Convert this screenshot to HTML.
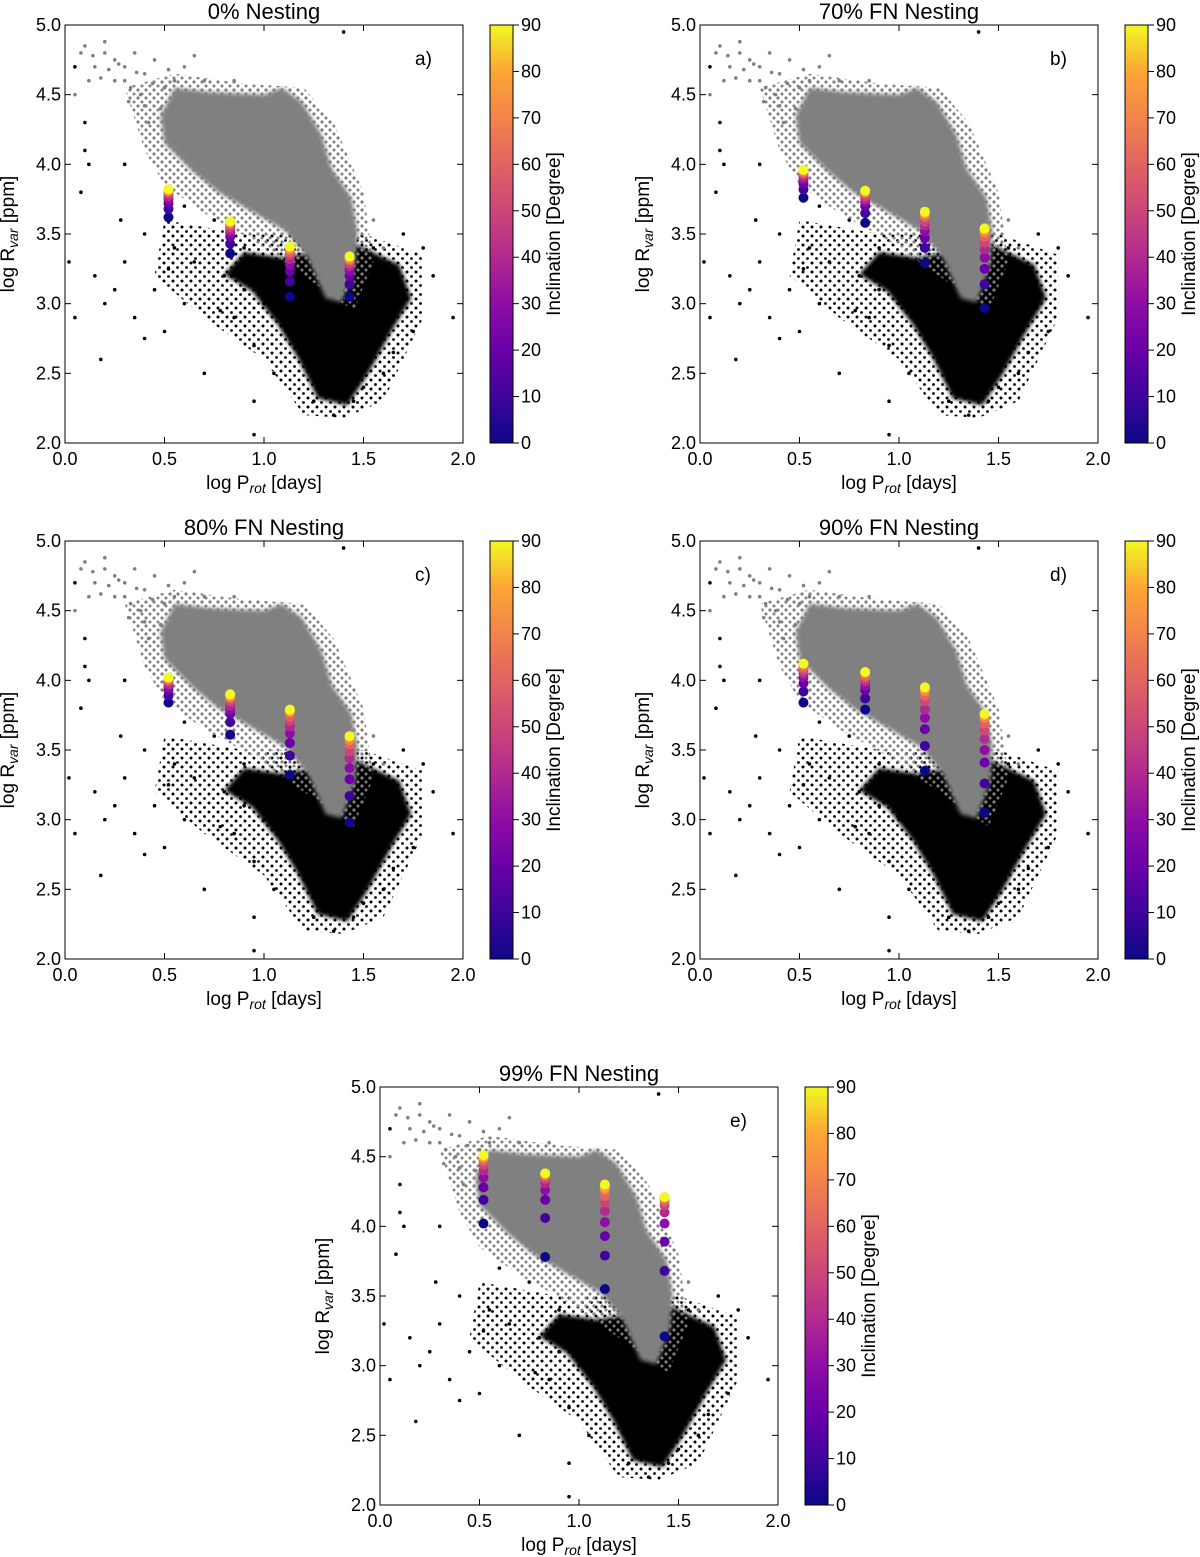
<!DOCTYPE html>
<html><head><meta charset="utf-8"><style>
body{margin:0;background:#fff}
svg{display:block;font-family:"Liberation Sans","DejaVu Sans",sans-serif}
</style></head><body>
<svg id="fig" width="1200" height="1557" viewBox="0 0 1200 1557" xmlns="http://www.w3.org/2000/svg">
<defs><linearGradient id="plasma" x1="0" y1="1" x2="0" y2="0">
<stop offset="0" stop-color="#0d0887"/><stop offset="0.111" stop-color="#3e049c"/><stop offset="0.222" stop-color="#6a00a8"/>
<stop offset="0.333" stop-color="#8f0da4"/><stop offset="0.444" stop-color="#b12a90"/><stop offset="0.556" stop-color="#cc4778"/>
<stop offset="0.667" stop-color="#e16462"/><stop offset="0.778" stop-color="#f2844b"/><stop offset="0.889" stop-color="#fca636"/>
<stop offset="1" stop-color="#f0f921"/></linearGradient>
<pattern id="blackDots" width="9" height="9" patternUnits="userSpaceOnUse"><circle cx="2" cy="2" r="1.5" fill="#000"/><circle cx="6.5" cy="6.5" r="1.4" fill="#000"/></pattern>
<pattern id="grayDots" width="8" height="8" patternUnits="userSpaceOnUse"><circle cx="2" cy="2" r="1.6" fill="#808080"/><circle cx="6" cy="6" r="1.5" fill="#808080"/></pattern>
<filter id="soft"><feGaussianBlur stdDeviation="2"/></filter>
</defs>
</svg>
<script>
const xTicks=[0.0,0.5,1.0,1.5,2.0];
const yTicks=[2.0,2.5,3.0,3.5,4.0,4.5,5.0];
const cbTicks=[0,10,20,30,40,50,60,70,80,90];
const inclinations=[0,10,20,30,40,50,60,70,80,90];
const colPeriods=[0.52,0.83,1.13,1.43];
const panelTitles=["0% Nesting","70% FN Nesting","80% FN Nesting","90% FN Nesting","99% FN Nesting"];
const panelLetters=["a)","b)","c)","d)","e)"];
const panelA=[[3.62,3.68,3.72,3.75,3.77,3.79,3.80,3.81,3.82,3.82],[3.36,3.43,3.48,3.51,3.53,3.55,3.57,3.58,3.59,3.59],[3.05,3.16,3.23,3.28,3.32,3.35,3.37,3.39,3.40,3.41],[3.05,3.14,3.20,3.24,3.27,3.29,3.31,3.32,3.33,3.34]];
const panelB=[[3.76,3.82,3.86,3.89,3.91,3.93,3.94,3.95,3.96,3.96],[3.58,3.65,3.70,3.73,3.75,3.77,3.79,3.80,3.81,3.81],[3.29,3.40,3.47,3.52,3.56,3.59,3.62,3.64,3.65,3.66],[2.97,3.14,3.25,3.33,3.39,3.44,3.48,3.51,3.53,3.54]];
const panelC=[[3.84,3.89,3.93,3.95,3.97,3.99,4.00,4.01,4.02,4.02],[3.61,3.70,3.76,3.79,3.82,3.85,3.87,3.88,3.89,3.90],[3.32,3.46,3.55,3.62,3.67,3.71,3.74,3.77,3.78,3.79],[2.98,3.17,3.29,3.37,3.44,3.49,3.54,3.57,3.59,3.60]];
const panelD=[[3.84,3.92,3.98,4.02,4.05,4.07,4.09,4.11,4.12,4.12],[3.79,3.87,3.93,3.96,3.99,4.01,4.03,4.05,4.06,4.06],[3.35,3.53,3.65,3.73,3.79,3.85,3.89,3.92,3.94,3.95],[3.05,3.26,3.41,3.50,3.58,3.64,3.69,3.73,3.75,3.76]];
const panelE=[[4.02,4.19,4.28,4.35,4.40,4.44,4.47,4.49,4.50,4.51],[3.78,4.06,4.19,4.26,4.31,4.34,4.36,4.37,4.38,4.38],[3.55,3.79,3.93,4.03,4.11,4.17,4.22,4.26,4.28,4.30],[3.21,3.68,3.89,4.02,4.10,4.15,4.18,4.20,4.21,4.21]];
const panelData=[panelA,panelB,panelC,panelD,panelE];
const grayHaloP=[0.3,0.55,0.9,1.2,1.35,1.5,1.55,1.45,1.2,0.95,0.7,0.5,0.4];
const grayHaloR=[4.55,4.65,4.58,4.55,4.3,3.8,3.3,2.95,3.2,3.45,3.65,3.85,4.1];
const grayCoreP=[0.55,0.72,1.0,1.09,1.19,1.29,1.34,1.44,1.47,1.46,1.39,1.31,1.22,1.11,0.94,0.77,0.64,0.5,0.48];
const grayCoreR=[4.55,4.52,4.50,4.55,4.45,4.21,3.97,3.76,3.52,3.28,3.01,3.04,3.33,3.52,3.66,3.80,3.95,4.15,4.35];
const blackHaloP=[0.5,0.9,1.5,1.8,1.8,1.6,1.4,1.2,1.0,0.7,0.45];
const blackHaloR=[3.6,3.5,3.5,3.35,2.9,2.3,2.18,2.2,2.6,2.9,3.2];
const blackCoreP=[0.9,1.09,1.47,1.68,1.74,1.64,1.52,1.42,1.27,1.17,1.07,0.94,0.8];
const blackCoreR=[3.37,3.33,3.42,3.28,3.04,2.8,2.49,2.27,2.32,2.61,2.85,3.09,3.21];
const grayP=[0.1,0.2,0.25,0.3,0.35,0.15,0.4,0.45,0.3,0.5,0.55,0.2,0.38,0.6,0.7,0.48,0.42,0.6,0.75,0.9,1.0,1.1,1.6,1.55,0.85,0.25,0.12,0.05,0.22,0.33,0.18,0.27,0.36,0.44,0.08,0.14,0.32,0.4,0.52,0.65];
const grayR=[4.85,4.8,4.75,4.7,4.8,4.7,4.65,4.75,4.6,4.55,4.6,4.88,4.5,4.7,4.6,4.4,4.3,4.25,4.2,4.0,3.9,3.9,3.4,3.6,4.6,4.6,4.6,4.5,4.68,4.55,4.62,4.72,4.66,4.58,4.8,4.78,4.45,4.42,4.68,4.78];
const blackP=[0.05,0.1,0.02,0.05,0.15,0.2,0.3,0.35,0.4,0.45,0.5,0.55,0.6,0.65,0.7,0.75,0.8,0.85,0.9,0.95,1.0,1.05,0.95,1.25,1.35,1.45,1.6,1.75,1.85,1.95,1.8,1.7,0.08,0.12,0.28,0.6,0.18,0.4,0.1,1.4,0.95,0.3,0.25,0.52,0.78,0.9,1.55,1.65,1.5,1.3];
const blackR=[4.7,4.3,3.3,2.9,3.2,3.0,3.3,2.9,3.5,3.1,2.8,3.4,3.0,3.3,2.5,3.6,3.2,2.9,3.4,2.7,3.0,2.5,2.3,2.3,2.2,2.3,2.5,2.8,3.2,2.9,3.4,3.5,3.8,4.0,3.6,3.7,2.6,2.75,4.1,4.95,2.06,4.0,3.1,3.25,2.95,3.1,3.4,2.65,2.4,2.35];
const plasmaStops=["#0d0887","#3e049c","#6a00a8","#8f0da4","#b12a90","#cc4778","#e16462","#f2844b","#fca636","#f0f921"];

const NS="http://www.w3.org/2000/svg";
const svg=document.getElementById('fig');
function mk(tag,attrs,parent,text){const e=document.createElementNS(NS,tag);for(const k in attrs)e.setAttribute(k,attrs[k]);if(text!==undefined)e.textContent=text;parent.appendChild(e);return e;}
const W=398,H=418;
const origins=[[65,25],[700,25],[65,541],[700,541],[380,1087]];
origins.forEach((o,pi)=>{
 const ox=o[0],oy=o[1];
 const g=mk('g',{},svg);
 
 
 const xs=v=>ox+v/2*W, ys=v=>oy+H-(v-2)/3*H;
 const pts=(P,R)=>P.map((p,i)=>xs(p)+','+ys(R[i])).join(' ');
 const clip='clip'+pi;
 const cp=mk('clipPath',{id:clip},g);mk('rect',{x:ox,y:oy,width:W,height:H},cp);
 const data=mk('g',{'clip-path':'url(#'+clip+')'},g);
 const bh=mk('polygon',{points:pts(blackHaloP,blackHaloR),fill:'url(#blackDots)'},data);
 
 
 const bc=mk('polygon',{points:pts(blackCoreP,blackCoreR),fill:'#000',filter:'url(#soft)'},data);
 
 
 blackP.forEach((p,i)=>{const c=mk('circle',{cx:xs(p),cy:ys(blackR[i]),r:1.8,fill:'#000'},data);
  
  });
 const gh=mk('polygon',{points:pts(grayHaloP,grayHaloR),fill:'url(#grayDots)'},data);
 
 
 const gc=mk('polygon',{points:pts(grayCoreP,grayCoreR),fill:'#808080',filter:'url(#soft)'},data);
 
 
 grayP.forEach((p,i)=>{const c=mk('circle',{cx:xs(p),cy:ys(grayR[i]),r:1.8,fill:'#808080'},data);
  
  });
 panelData[pi].forEach((col,ci)=>{col.forEach((v,k)=>{
  const c=mk('circle',{cx:xs(colPeriods[ci]),cy:ys(v),r:5,fill:plasmaStops[inclinations[k]/10]},data);
  
  });});
 const fr=mk('rect',{x:ox,y:oy,width:W,height:H,fill:'none',stroke:'#000','stroke-width':1},g);
 
 
 xTicks.forEach(t=>{const x=xs(t);
  mk('line',{x1:x,x2:x,y1:oy+H,y2:oy+H-6,stroke:'#000'},g);mk('line',{x1:x,x2:x,y1:oy,y2:oy+6,stroke:'#000'},g);
  const tl=mk('text',{x:x,y:oy+H+22,'text-anchor':'middle','font-size':18},g,t.toFixed(1));
  
  });
 yTicks.forEach(t=>{const y=ys(t);
  mk('line',{x1:ox,x2:ox+6,y1:y,y2:y,stroke:'#000'},g);mk('line',{x1:ox+W,x2:ox+W-6,y1:y,y2:y,stroke:'#000'},g);
  const tl=mk('text',{x:ox-4,y:y+6,'text-anchor':'end','font-size':18},g,t.toFixed(1));
  
  });
 const ti=mk('text',{x:ox+W/2,y:oy-6,'text-anchor':'middle','font-size':22},g,panelTitles[pi]);
 
 
 const le=mk('text',{x:ox+350,y:oy+40,'font-size':19},g,panelLetters[pi]);
 
 
 const xl=mk('text',{x:ox+W/2,y:oy+H+46,'text-anchor':'middle','font-size':19},g);
 xl.innerHTML='log P<tspan font-size="14" font-style="italic" dy="4">rot</tspan><tspan dy="-4"> [days]</tspan>';
 
 
 const yl=mk('text',{transform:'translate('+(ox-51)+','+(oy+H/2)+') rotate(-90)','text-anchor':'middle','font-size':19},g);
 yl.innerHTML='log R<tspan font-size="14" font-style="italic" dy="4">var</tspan><tspan dy="-4"> [ppm]</tspan>';
 
 
 const cx=ox+425;
 const cb=mk('rect',{x:cx,y:oy,width:23,height:H,fill:'url(#plasma)',stroke:'#000'},g);
 
 
 cbTicks.forEach(t=>{const y=oy+H-t/90*H;
  mk('line',{x1:cx+23,x2:cx+29,y1:y,y2:y,stroke:'#000'},g);
  const tl=mk('text',{x:cx+31,y:y+6,'font-size':18},g,String(t));
  
  });
 const cl=mk('text',{transform:'translate('+(cx+70)+','+(oy+H/2)+') rotate(-90)','text-anchor':'middle','font-size':19},g,'Inclination [Degree]');
 
 
});
</script>
</body></html>
